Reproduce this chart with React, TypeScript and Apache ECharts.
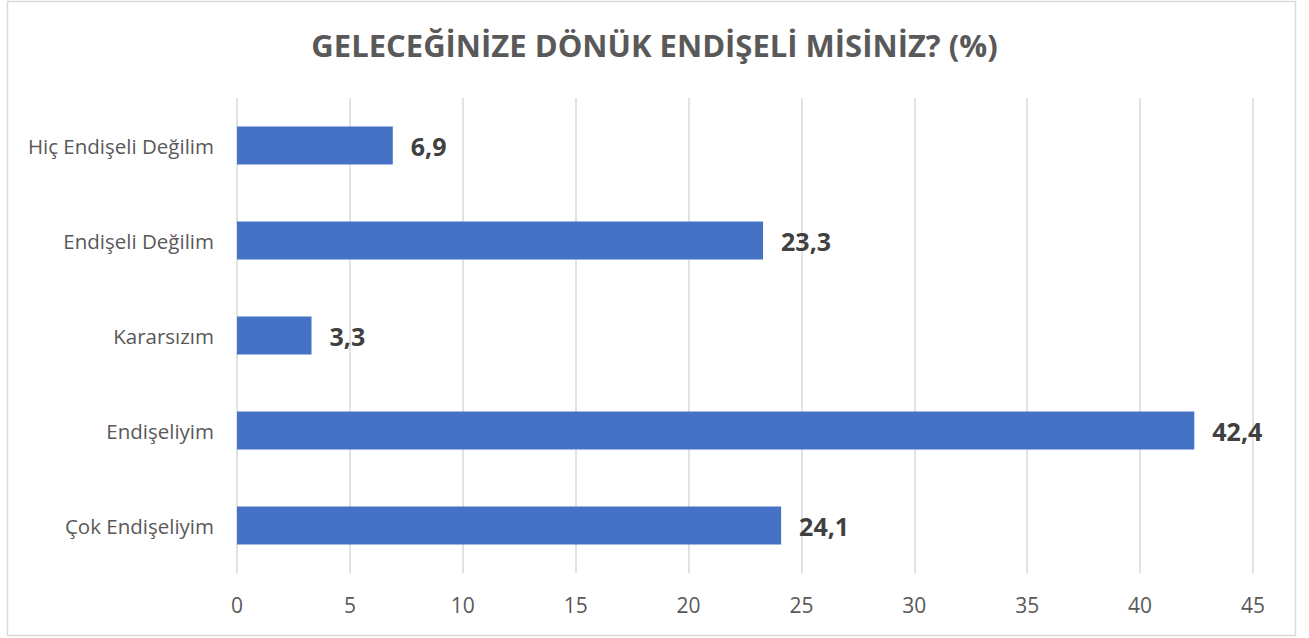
import React, { useEffect, useRef } from "react";
import * as echarts from "echarts";

const titleText = "GELECEĞİNİZE DÖNÜK ENDİŞELİ MİSİNİZ? (%)";
// bottom to top
const categories = [
  "Çok Endişeliyim",
  "Endişeliyim",
  "Kararsızım",
  "Endişeli Değilim",
  "Hiç Endişeli Değilim",
];
const values = [24.1, 42.4, 3.3, 23.3, 6.9];

export default function App() {
  const ref = useRef<HTMLDivElement>(null);
  useEffect(() => {
    document.body.style.margin = "0";
    const chart = echarts.init(ref.current!, null, { renderer: "svg" });
    const font = "'Open Sans', 'Noto Sans', sans-serif";
    chart.setOption({
      animation: false,
      backgroundColor: "#ffffff",
      textStyle: { fontFamily: font },
      title: {
        text: titleText,
        left: "center",
        top: 24,
        textStyle: { fontSize: 31, fontWeight: "bold", color: "#595959", fontFamily: font },
      },
      graphic: [
        {
          type: "rect",
          shape: { x: 7.5, y: 1.5, width: 1288, height: 634 },
          style: { fill: "none", stroke: "#d9d9d9", lineWidth: 1.5 },
          silent: true,
        },
      ],
      grid: { left: 237, right: 56, top: 98, bottom: 65 },
      xAxis: {
        type: "value",
        min: 0,
        max: 45,
        interval: 5,
        axisLine: { show: false },
        axisTick: { show: false },
        splitLine: { lineStyle: { color: "#d9d9d9", width: 1.5 } },
        axisLabel: { color: "#595959", fontSize: 21, margin: 21, fontFamily: font },
      },
      yAxis: {
        type: "category",
        data: categories,
        axisLine: { show: false },
        axisTick: { show: false },
        axisLabel: { color: "#595959", fontSize: 20.5, margin: 23, fontFamily: font },
      },
      series: [
        {
          type: "bar",
          data: values,
          barWidth: "40%",
          itemStyle: { color: "#4472C4" },
          label: {
            show: true,
            position: "right",
            distance: 18,
            formatter: (p: any) => String(p.value).replace(".", ","),
            color: "#404040",
            fontSize: 25,
            fontWeight: "bold",
            fontFamily: font,
          },
        },
      ],
    });
    return () => chart.dispose();
  }, []);
  return <div ref={ref} style={{ width: 1309, height: 638 }} />;
}
